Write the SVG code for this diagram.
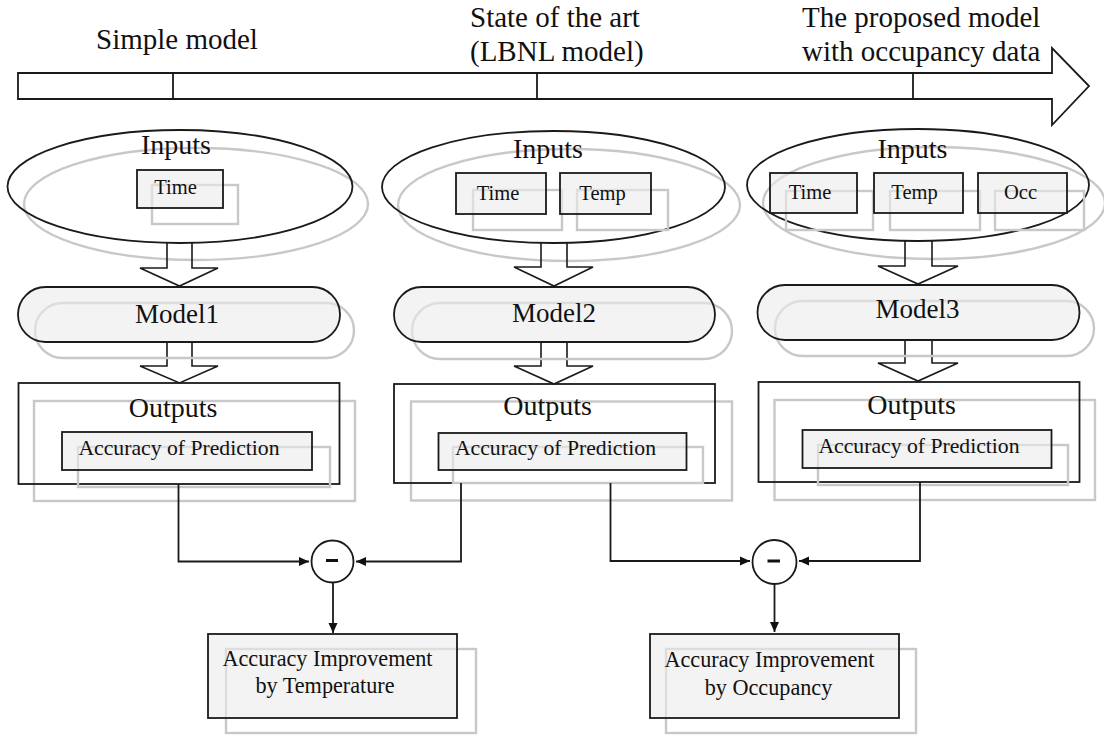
<svg xmlns="http://www.w3.org/2000/svg" width="1104" height="735" viewBox="0 0 1104 735">
<defs>
<style>
text{font-family:"Liberation Serif","DejaVu Serif",serif;fill:#111}
.hdr{font-size:29px}
.big{font-size:28px;text-anchor:middle}
.sm{font-size:20.5px;text-anchor:middle}
.md{font-size:21.7px;text-anchor:middle}
.ln{fill:none;stroke:#1a1a1a;stroke-width:1.8}
.sh{fill:none;stroke:#c8c8c8;stroke-width:2.4}
.bx{fill:#ebebeb;fill-opacity:0.6;stroke:#1a1a1a;stroke-width:1.8}
.ba{fill:none;stroke:#1a1a1a;stroke-width:1.6;stroke-linejoin:miter}
</style>
<marker id="ah" markerUnits="userSpaceOnUse" markerWidth="11" markerHeight="10" refX="10" refY="5" orient="auto">
<path d="M0,0.5 L10,5 L0,9.5 Z" fill="#111"/>
</marker>
</defs>
<rect width="1104" height="735" fill="#fff"/>

<g id="timeline">
<path class="ln" d="M18,73 H1052 V48 L1089,86 L1052,125 V99 H18 Z"/>
<path class="ln" d="M173,73 V99 M537,73 V99 M913,73 V99"/>
<text class="hdr" x="96" y="49">Simple model</text>
<text class="hdr" x="470" y="27">State of the art</text>
<text class="hdr" x="470" y="61">(LBNL model)</text>
<text class="hdr" x="802" y="27">The proposed model</text>
<text class="hdr" x="802" y="61">with occupancy data</text>
</g>

<g id="inputs1">
<ellipse class="sh" cx="196" cy="204" rx="172" ry="56"/>
<ellipse class="ln" cx="180" cy="186.5" rx="172.5" ry="56.5"/>
<text class="big" x="176" y="154">Inputs</text>
</g>
<g id="time1">
<rect class="sh" x="152" y="185" width="86" height="39"/>
<rect class="bx" x="137" y="170" width="86" height="38"/>
<text class="sm" x="175.5" y="194">Time</text>
</g>

<g id="inputs2">
<ellipse class="sh" cx="569" cy="205" rx="171" ry="56"/>
<ellipse class="ln" cx="553.5" cy="187" rx="171.5" ry="56"/>
<text class="big" x="548" y="158">Inputs</text>
</g>
<g id="time2">
<rect class="sh" x="473" y="190" width="89" height="40"/>
<rect class="bx" x="456" y="173" width="90" height="41"/>
<text class="sm" x="498" y="200">Time</text>
</g>
<g id="temp2">
<rect class="sh" x="577" y="190" width="91" height="40"/>
<rect class="bx" x="560" y="173" width="91" height="41"/>
<text class="sm" x="602.5" y="200">Temp</text>
</g>

<g id="inputs3">
<ellipse class="sh" cx="934" cy="203" rx="171" ry="56"/>
<ellipse class="ln" cx="918" cy="185" rx="171" ry="56"/>
<text class="big" x="912.5" y="158">Inputs</text>
</g>
<g id="time3">
<rect class="sh" x="786" y="191" width="87" height="39"/>
<rect class="bx" x="770" y="173" width="87" height="40"/>
<text class="sm" x="810" y="199">Time</text>
</g>
<g id="temp3">
<rect class="sh" x="890" y="191" width="90" height="39"/>
<rect class="bx" x="874" y="173" width="89" height="40"/>
<text class="sm" x="914.5" y="199">Temp</text>
</g>
<g id="occ3">
<rect class="sh" x="995" y="191" width="89" height="39"/>
<rect class="bx" x="978" y="173" width="89" height="40"/>
<text class="sm" x="1020.5" y="199">Occ</text>
</g>

<g id="blockarrows">
<path class="ba" d="M167,243 V268 H140 L179.5,286 L218,268 H192 V243"/>
<path class="ba" d="M167,342 V366 H140 L179.5,383 L218,366 H192 V342"/>
<path class="ba" d="M541,243 V267 H514 L554,286 L593,267 H567 V243"/>
<path class="ba" d="M541,342 V366 H514 L554,384 L593,366 H567 V342"/>
<path class="ba" d="M905,241 V266 H878 L918,284 L958,266 H932 V241"/>
<path class="ba" d="M905,340 V363 H878 L918,381 L958,363 H932 V340"/>
</g>

<g id="model1">
<rect class="sh" x="35" y="303" width="319" height="55" rx="27.5"/>
<rect class="bx" x="18" y="287" width="322" height="55" rx="27.5"/>
<text class="big" x="177" y="322.5" style="font-size:27px">Model1</text>
</g>
<g id="model2">
<rect class="sh" x="412" y="303" width="320" height="56" rx="28"/>
<rect class="bx" x="394" y="287" width="321" height="55" rx="27.5"/>
<text class="big" x="554" y="321.5" style="font-size:27px">Model2</text>
</g>
<g id="model3">
<rect class="sh" x="775" y="301" width="319" height="55" rx="27.5"/>
<rect class="bx" x="757.5" y="285" width="322" height="55" rx="27.5"/>
<text class="big" x="917.5" y="318" style="font-size:27px">Model3</text>
</g>

<g id="outputs1">
<rect class="sh" x="34" y="401" width="321" height="100"/>
<rect class="ln" x="18.5" y="383" width="321" height="101"/>
<text class="big" x="173" y="416.5">Outputs</text>
</g>
<g id="acc1">
<rect class="sh" x="78" y="447" width="252" height="40"/>
<rect class="bx" x="62" y="432" width="250" height="38"/>
<text class="md" x="179" y="455">Accuracy of Prediction</text>
</g>
<g id="outputs2">
<rect class="sh" x="411" y="401.5" width="321" height="99"/>
<rect class="ln" x="394" y="384" width="321" height="99"/>
<text class="big" x="547.5" y="415">Outputs</text>
</g>
<g id="acc2">
<rect class="sh" x="453" y="447" width="250" height="36"/>
<rect class="bx" x="438.5" y="433" width="248" height="37"/>
<text class="md" x="555.5" y="455">Accuracy of Prediction</text>
</g>
<g id="outputs3">
<rect class="sh" x="774.5" y="400" width="320.5" height="100"/>
<rect class="ln" x="758.5" y="382" width="321" height="100"/>
<text class="big" x="911.5" y="414">Outputs</text>
</g>
<g id="acc3">
<rect class="sh" x="818" y="445" width="250" height="40"/>
<rect class="bx" x="802.5" y="430" width="249" height="38"/>
<text class="md" x="919" y="453">Accuracy of Prediction</text>
</g>

<g id="connectors">
<path class="ln" d="M178.5,484 V561.5 H309" marker-end="url(#ah)"/>
<path class="ln" d="M461,483 V561.5 H356" marker-end="url(#ah)"/>
<path class="ln" d="M333,583 V633" marker-end="url(#ah)"/>
<path class="ln" d="M610.5,483 V561 H750" marker-end="url(#ah)"/>
<path class="ln" d="M920,482 V561 H799" marker-end="url(#ah)"/>
<path class="ln" d="M774.5,584 V632" marker-end="url(#ah)"/>
</g>

<g id="minus1">
<circle class="ln" cx="332.5" cy="561.5" r="21" fill="#fff"/>
<path d="M326,560.5 H338" stroke="#111" stroke-width="3"/>
</g>
<g id="minus2">
<circle class="ln" cx="774.5" cy="562" r="22" fill="#fff"/>
<path d="M767.5,561 H780" stroke="#111" stroke-width="3"/>
</g>

<g id="improve1">
<rect class="sh" x="226" y="649" width="250" height="84"/>
<rect class="bx" x="208" y="634" width="249" height="84"/>
<text class="md" x="327.5" y="666" style="font-size:22.2px">Accuracy Improvement</text>
<text class="md" x="325" y="693" style="font-size:22.2px">by Temperature</text>
</g>
<g id="improve2">
<rect class="sh" x="666" y="649" width="250" height="84"/>
<rect class="bx" x="650" y="634" width="249" height="84"/>
<text class="md" x="769.5" y="666.5" style="font-size:22.2px">Accuracy Improvement</text>
<text class="md" x="768.5" y="695" style="font-size:22.2px">by Occupancy</text>
</g>
</svg>
